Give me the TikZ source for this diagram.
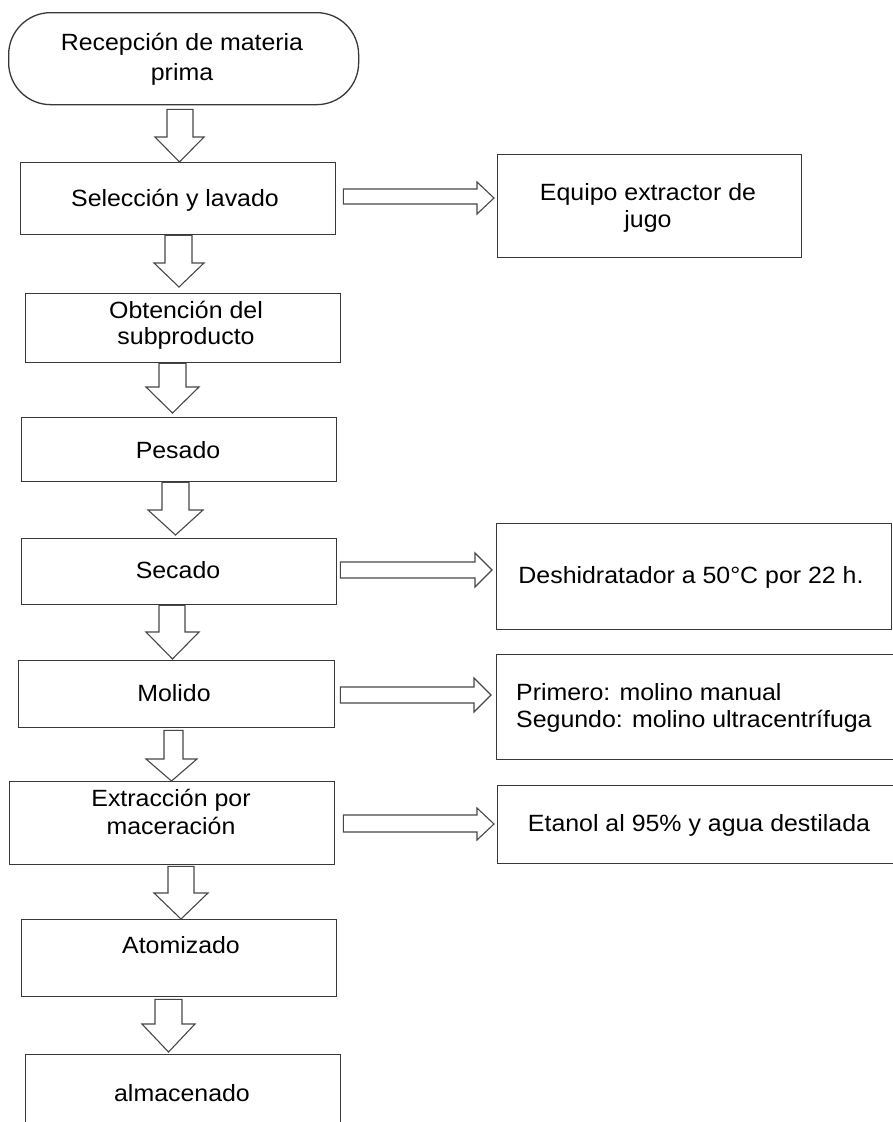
\documentclass[tikz,border=0pt]{standalone}
\usepackage{fontspec}
\setmainfont{Liberation Sans}[FakeStretch=1.06]
\usetikzlibrary{calc}
\tikzset{
  box/.style={draw=black!78, line width=1.3pt, inner sep=0pt, anchor=north west},
  stad/.style={box, rounded corners=42pt},
  txt/.style={font=\fontsize{23.5}{28}\selectfont, text=black, inner sep=0pt, align=center},
  blk/.style={draw=black!72, line width=1.1pt, fill=white, line join=miter},
}
% vertical block arrow: from, to, shaft left x, shaft right x, head left x, head right x, head y, top gap, tip gap
\newcommand\varr[9]{%
  \pgfmathsetmacro\tipx{(#5+#6)/2}%
  \draw[blk] ($(#3,0 |- #1.south)+(0,#8)$) -- (#3,#7) -- (#5,#7)
    -- ($(\tipx,0 |- #2.north)+(0,-#9)$) -- (#6,#7) -- (#4,#7)
    -- ($(#4,0 |- #1.south)+(0,#8)$) -- cycle;}
% horizontal block arrow: from, to, shaft top y, shaft bottom y, head top y, head bottom y, head x, start gap, tip gap
\newcommand\harr[9]{%
  \pgfmathsetmacro\tipy{(#5+#6)/2}%
  \draw[blk] ($(#1.east |- 0,#3)+(#8,0)$) -- (#7,#3) -- (#7,#5)
    -- ($(#2.west |- 0,\tipy)+(-#9,0)$) -- (#7,#6) -- (#7,#4)
    -- ($(#1.east |- 0,#4)+(#8,0)$) -- cycle;}
\begin{document}
\begin{tikzpicture}[x=1pt, y=-1pt]
\useasboundingbox (0,0) rectangle (893,1122);
\clip (0,0) rectangle (893,1122);
\fill[white] (0,0) rectangle (893,1122);

% main column boxes
\node[stad, minimum width=350pt, minimum height=92pt] (rec) at (8,12) {};
\node[box, minimum width=315pt, minimum height=72pt] (sel) at (20,162) {};
\node[box, minimum width=315pt, minimum height=69pt] (obt) at (25,293) {};
\node[box, minimum width=315pt, minimum height=64pt] (pes) at (21,417) {};
\node[box, minimum width=315pt, minimum height=66pt] (sec) at (21,538) {};
\node[box, minimum width=316pt, minimum height=67pt] (mol) at (18,660) {};
\node[box, minimum width=325pt, minimum height=83pt] (ext) at (9,781) {};
\node[box, minimum width=315pt, minimum height=77pt] (ato) at (21,919) {};
\node[box, minimum width=315pt, minimum height=95pt] (alm) at (25,1054) {};

% right column boxes
\node[box, minimum width=304pt, minimum height=103pt] (equ) at (497,154) {};
\node[box, minimum width=395pt, minimum height=106pt] (des) at (496,523) {};
\node[box, minimum width=420pt, minimum height=105pt] (pri) at (496,654) {};
\node[box, minimum width=420pt, minimum height=78pt] (eta) at (497,785) {};

% texts
\node[txt, font=\fontsize{23.5}{30}\selectfont] (t-rec) at (182,59) {Recepción de materia\\prima};
\node[txt] (t-sel) at (175,200) {Selección y lavado};
\node[txt, font=\fontsize{23.5}{26}\selectfont] (t-obt) at (186,325) {Obtención del\\subproducto};
\node[txt] (t-pes) at (178,450) {Pesado};
\node[txt] (t-sec) at (178,570) {Secado};
\node[txt] (t-mol) at (174,693) {Molido};
\node[txt] (t-ext) at (171,812) {Extracción por\\maceración};
\node[txt] (t-ato) at (181,945) {Atomizado};
\node[txt] (t-alm) at (182,1093) {almacenado};
\node[txt, font=\fontsize{23.5}{27}\selectfont] (t-equ) at (648,208) {Equipo extractor de\\jugo};
\node[txt] (t-des) at (691,577) {Deshidratador a 50°C por 22 h.};
\node[txt, align=left, anchor=west, font=\fontsize{23.5}{27}\selectfont] (t-pri) at (516,708) {Primero: molino manual\\Segundo: molino ultracentrífuga};
\node[txt] (t-eta) at (699,825) {Etanol al 95\% y agua destilada};

% vertical block arrows
\varr{rec}{sel}{167}{193}{155}{204}{137}{4}{0}
\varr{sel}{obt}{165}{192}{154}{204}{263}{0}{6}
\varr{obt}{pes}{159}{186}{146}{199}{387}{0}{4}
\varr{pes}{sec}{162}{189}{148}{203}{510}{0}{3}
\varr{sec}{mol}{159}{185}{146}{199}{632}{0}{1}
\varr{mol}{ext}{164}{183}{146}{197}{759}{2}{0}
\varr{ext}{ato}{168}{194}{154}{208}{893}{1}{0}
\varr{ato}{alm}{155}{182}{142}{195}{1024}{2}{2}

% horizontal block arrows
\harr{sel}{equ}{189}{204}{182}{214}{477}{7}{3}
\harr{sec}{des}{562}{578}{553}{587}{475}{3}{4}
\harr{mol}{pri}{687}{703}{678}{712}{474}{5}{5}
\harr{ext}{eta}{815}{832}{808}{840}{477}{8}{3}
\end{tikzpicture}
\end{document}
